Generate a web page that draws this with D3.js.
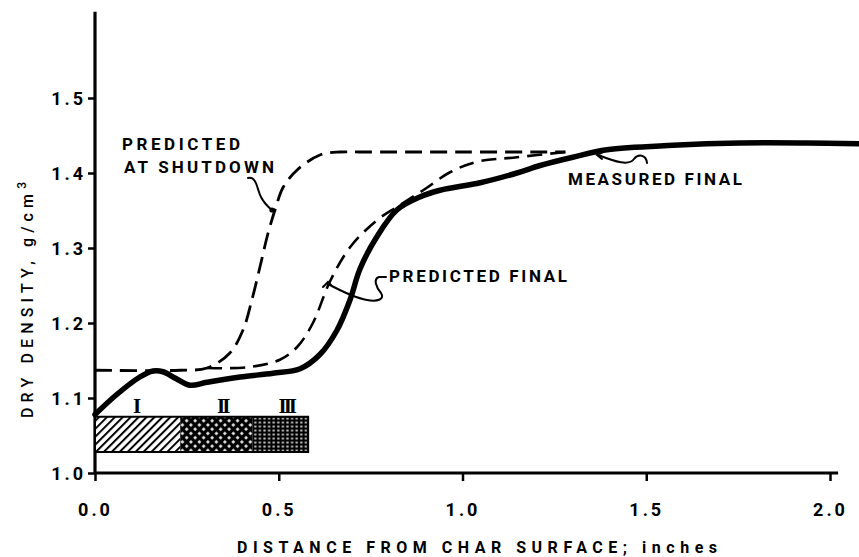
<!DOCTYPE html>
<html>
<head>
<meta charset="utf-8">
<script src="https://cdn.jsdelivr.net/npm/d3@7"></script>
<style>
  html, body { margin: 0; padding: 0; background: #fff; }
  svg { display: block; }
  .lbl { font-family: Roboto, "DejaVu Sans", sans-serif; fill: #000; }
</style>
</head>
<body>
<svg id="chart" width="859" height="557"></svg>
<script>
// Dry density profiles through the char layer
const xTicks = [0.0, 0.5, 1.0, 1.5, 2.0];
const xTickLabels = ["0.0", "0.5", "1.0", "1.5", "2.0"];
const yTicks = [1.0, 1.1, 1.2, 1.3, 1.4, 1.5];
const yTickLabels = ["1.0", "1.1", "1.2", "1.3", "1.4", "1.5"];

const measuredX = [0, 0.06, 0.122, 0.158, 0.185, 0.22, 0.258, 0.305, 0.395, 0.484, 0.558, 0.612, 0.658, 0.694, 0.721, 0.767, 0.822, 0.884, 0.939, 1.048, 1.148, 1.211, 1.30, 1.393, 1.573, 1.755, 1.937, 2.079];
const measuredY = [1.078, 1.105, 1.128, 1.136, 1.135, 1.126, 1.117, 1.121, 1.128, 1.133, 1.139, 1.158, 1.19, 1.231, 1.272, 1.315, 1.351, 1.368, 1.377, 1.387, 1.40, 1.41, 1.421, 1.431, 1.437, 1.44, 1.44, 1.439];

const shutdownX = [0, 0.231, 0.305, 0.367, 0.403, 0.427, 0.449, 0.471, 0.49, 0.512, 0.55, 0.612, 0.667, 0.72, 1.0, 1.28];
const shutdownY = [1.137, 1.137, 1.140, 1.16, 1.191, 1.231, 1.275, 1.32, 1.351, 1.381, 1.404, 1.424, 1.428, 1.428, 1.428, 1.428];

const finalX = [0.305, 0.414, 0.503, 0.55, 0.593, 0.639, 0.694, 0.767, 0.822, 0.893, 0.966, 1.04, 1.148, 1.28];
const finalY = [1.140, 1.141, 1.151, 1.168, 1.2, 1.255, 1.301, 1.337, 1.355, 1.377, 1.401, 1.415, 1.421, 1.428];

// Char zones shown as a patterned strip near the bottom
const zoneStart = [0.0, 0.232, 0.428];
const zoneEnd = [0.232, 0.428, 0.58];
const zoneLabels = ["I", "II", "III"];
const zonePatterns = ["hatch", "cross", "grid"];
const stripBottom = 1.028, stripTop = 1.075;

const svg = d3.select("#chart");
const x = d3.scaleLinear().domain([0, 2.0]).range([95, 830]);
const y = d3.scaleLinear().domain([1.0, 1.5]).range([473, 98]);

// Fill patterns
const defs = svg.append("defs");
const hatch = defs.append("pattern").attr("id", "hatch").attr("patternUnits", "userSpaceOnUse")
  .attr("width", 5.6).attr("height", 5.6).attr("patternTransform", "rotate(45)");
hatch.append("rect").attr("width", 5.6).attr("height", 5.6).attr("fill", "#fff");
hatch.append("line").attr("x1", 1).attr("y1", 0).attr("x2", 1).attr("y2", 5.6).attr("stroke", "#000").attr("stroke-width", 2);

const cross = defs.append("pattern").attr("id", "cross").attr("patternUnits", "userSpaceOnUse")
  .attr("width", 6).attr("height", 6).attr("patternTransform", "rotate(45)");
cross.append("rect").attr("width", 6).attr("height", 6).attr("fill", "#000");
cross.append("rect").attr("x", 2.2).attr("y", 2.2).attr("width", 2.6).attr("height", 2.6).attr("fill", "#fff");

const grid = defs.append("pattern").attr("id", "grid").attr("patternUnits", "userSpaceOnUse")
  .attr("width", 4.6).attr("height", 4).attr("x", 0).attr("y", 0.5);
grid.append("rect").attr("width", 4.6).attr("height", 4).attr("fill", "#000");
grid.append("rect").attr("x", 1.2).attr("y", 1.3).attr("width", 2.2).attr("height", 1.5).attr("fill", "#fff");

// Axes
const fontFam = 'Roboto, "DejaVu Sans", sans-serif';
const xAxis = d3.axisBottom(x).tickValues(xTicks).tickSize(8).tickSizeOuter(0)
  .tickFormat((d, i) => xTickLabels[i]);
const gx = svg.append("g").attr("transform", `translate(0,${y(1.0)})`).call(xAxis);
gx.select(".domain").remove();
gx.selectAll(".tick line").attr("stroke", "#000").attr("stroke-width", 2.5);
gx.selectAll(".tick text").attr("dy", null).attr("y", 43)
  .attr("font-family", fontFam).attr("font-size", 18).attr("font-weight", 700)
  .attr("letter-spacing", 3).attr("fill", "#000");

const yAxis = d3.axisLeft(y).tickValues(yTicks).tickSize(7).tickSizeOuter(0)
  .tickFormat((d, i) => yTickLabels[i]);
const gy = svg.append("g").attr("transform", `translate(${x(0)},0)`).call(yAxis);
gy.select(".domain").remove();
gy.selectAll(".tick line").attr("stroke", "#000").attr("stroke-width", 2.5);
gy.selectAll(".tick text").attr("x", -9).attr("dy", "0.36em")
  .attr("font-family", fontFam).attr("font-size", 18).attr("font-weight", 700)
  .attr("letter-spacing", 3).attr("fill", "#000");

// Axis lines
svg.append("line").attr("x1", x(0)).attr("x2", x(2.022)).attr("y1", y(1.0)).attr("y2", y(1.0))
  .attr("stroke", "#000").attr("stroke-width", 3.2);
svg.append("line").attr("x1", x(0)).attr("x2", x(0)).attr("y1", y(1.0)).attr("y2", y(1.615))
  .attr("stroke", "#000").attr("stroke-width", 3.2);

// Zone strip
const zones = zoneStart.map((s, i) => ({ s, e: zoneEnd[i], label: zoneLabels[i], pat: zonePatterns[i] }));
svg.append("g").selectAll("rect").data(zones).join("rect")
  .attr("x", d => x(d.s)).attr("width", d => x(d.e) - x(d.s))
  .attr("y", y(stripTop)).attr("height", y(stripBottom) - y(stripTop))
  .attr("fill", d => `url(#${d.pat})`);
svg.append("rect").attr("x", x(zoneStart[0])).attr("width", x(zoneEnd[2]) - x(zoneStart[0]))
  .attr("y", y(stripTop)).attr("height", y(stripBottom) - y(stripTop))
  .attr("fill", "none").attr("stroke", "#000").attr("stroke-width", 2);
svg.append("g").selectAll("text").data(zones).join("text")
  .attr("x", d => x((d.s + d.e) / 2) + (d.label === "I" ? -2 : 6))
  .attr("y", y(stripTop) - 4)
  .attr("text-anchor", "middle")
  .attr("font-family", '"Liberation Serif", "DejaVu Serif", serif')
  .attr("font-weight", "bold").attr("font-size", 21).attr("letter-spacing", -3)
  .text(d => d.label);

// Curves
const line = d3.line().x(d => x(d[0])).y(d => y(d[1])).curve(d3.curveCatmullRom.alpha(0.5));
const zip = (a, b) => a.map((v, i) => [v, b[i]]);

svg.append("path").datum(zip(shutdownX, shutdownY)).attr("d", line)
  .attr("fill", "none").attr("stroke", "#000").attr("stroke-width", 2.8)
  .attr("stroke-dasharray", "17,8");
svg.append("path").datum(zip(finalX, finalY)).attr("d", line)
  .attr("fill", "none").attr("stroke", "#000").attr("stroke-width", 2.6)
  .attr("stroke-dasharray", "15,8");
svg.append("path").datum(zip(measuredX, measuredY)).attr("d", line)
  .attr("fill", "none").attr("stroke", "#000").attr("stroke-width", 5.5)
  .attr("stroke-linejoin", "round").attr("stroke-linecap", "round");

// Curve labels and leader lines
const lab = (t, xx, yy, w) => svg.append("text").attr("class", "lbl")
  .attr("x", xx).attr("y", yy).attr("font-size", 17).attr("font-weight", 700)
  .attr("textLength", w).attr("lengthAdjust", "spacing").text(t);

lab("PREDICTED", 122, 150, 118);
lab("AT SHUTDOWN", 124, 173, 150);
lab("PREDICTED FINAL", 389, 282, 178);
lab("MEASURED FINAL", 568, 185, 174);

const leader = d => svg.append("path").attr("d", d).attr("fill", "none")
  .attr("stroke", "#000").attr("stroke-width", 2).attr("stroke-linecap", "round");
leader("M248,178 C257,176 257,190 261,197 C264,203 268,207 273,211");
svg.append("circle").attr("cx", 272).attr("cy", 210).attr("r", 2.6).attr("fill", "#000");

leader("M386,277 L379,277 C373,279 376,287 381,293 C385,299 378,302 367,300 C355,298 343,292 328,284");
leader("M323,287 L328,282 L331,285");

leader("M647,163 C646,154 638,154 634,159 C629,166 616,162 598,155");
leader("M603,152 L597,155 L602,159");

// Axis titles
svg.append("text").attr("class", "lbl")
  .attr("transform", `translate(33,300) rotate(-90)`)
  .attr("text-anchor", "middle").attr("font-size", 16).attr("font-weight", 500)
  .attr("textLength", 236).attr("lengthAdjust", "spacing")
  .html('DRY DENSITY, g/cm<tspan dy="-7" font-size="12">3</tspan>');

svg.append("text").attr("class", "lbl")
  .attr("x", 237).attr("y", 553).attr("font-size", 16).attr("font-weight", 700)
  .attr("textLength", 480).attr("lengthAdjust", "spacing")
  .text("DISTANCE FROM CHAR SURFACE; inches");
</script>
</body>
</html>
